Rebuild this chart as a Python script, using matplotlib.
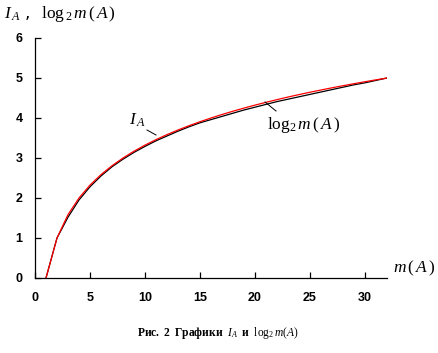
import matplotlib
matplotlib.use("Agg")
import matplotlib.pyplot as plt

m_values = [1, 2, 3, 4, 5, 6, 7, 8, 9, 10, 11, 12, 13, 14, 15, 16,
            17, 18, 19, 20, 21, 22, 23, 24, 25, 26, 27, 28, 29, 30, 31, 32]
I_A = [0.0, 1.0, 1.52, 1.95, 2.28, 2.55, 2.78, 2.97, 3.14, 3.29, 3.43, 3.55,
       3.67, 3.78, 3.88, 3.96, 4.04, 4.12, 4.20, 4.27, 4.34, 4.41, 4.47, 4.53,
       4.59, 4.65, 4.71, 4.77, 4.83, 4.88, 4.94, 5.0]
log2_m = [0.0, 1.0, 1.585, 2.0, 2.322, 2.585, 2.807, 3.0, 3.17, 3.322, 3.459,
          3.585, 3.70, 3.807, 3.907, 4.0, 4.087, 4.17, 4.248, 4.322, 4.392,
          4.459, 4.524, 4.585, 4.644, 4.70, 4.755, 4.807, 4.858, 4.907,
          4.954, 5.0]
x_ticks = [0, 5, 10, 15, 20, 25, 30]
y_ticks = [0, 1, 2, 3, 4, 5, 6]

plt.rcParams['mathtext.fontset'] = 'custom'
plt.rcParams['mathtext.rm'] = 'Liberation Serif'
plt.rcParams['mathtext.it'] = 'Liberation Serif:italic'
plt.rcParams['mathtext.bf'] = 'Liberation Serif:bold'

W, H = 439, 353
fig = plt.figure(figsize=(W / 100, H / 100), dpi=100)
ax = fig.add_axes([35 / W, 1 - 278 / H, (387 - 35) / W, (278 - 38) / H])

ax.plot(m_values, I_A, color='black', lw=0.9)
ax.plot(m_values, log2_m, color='#ff0000', lw=0.9)

ax.set_xlim(0, 32)
ax.set_ylim(0, 6)
ax.set_xticks(x_ticks)
ax.set_yticks(y_ticks)
for s in ('top', 'right'):
    ax.spines[s].set_visible(False)
for s in ('left', 'bottom'):
    ax.spines[s].set_linewidth(0.9)
ax.tick_params(direction='in', length=4, width=0.9)
ax.tick_params(axis='x', pad=10)
ax.tick_params(axis='y', pad=9)
for lab in ax.get_xticklabels() + ax.get_yticklabels():
    lab.set_fontfamily('Liberation Sans')
    lab.set_fontweight('bold')
    lab.set_fontsize(9)

def px(x, y):
    return (x / W, 1 - y / H)

fig.text(*px(4, 14), r'$I_{\,A}$ ,  $\mathrm{log}_{\,2}\, m\,(\,A\,)$', fontsize=12.5,
         ha='left', va='center')
fig.text(*px(393, 268), r'$m\,(\,A\,)$', fontsize=12.5, ha='left', va='center')

# annotations
fig.text(*px(129, 120), r'$I_{\,A}$', fontsize=12.5, ha='left', va='center')
fig.add_artist(plt.Line2D([147 / W, 156 / W], [1 - 130 / H, 1 - 135 / H],
                          color='black', lw=0.7))
fig.text(*px(267, 125), r'$\mathrm{log}_{2}\, m\,(\,A\,)$', fontsize=12.5,
         ha='left', va='center')
fig.add_artist(plt.Line2D([265 / W, 276 / W], [1 - 102 / H, 1 - 111 / H],
                          color='black', lw=0.7))

fig.text(*px(137, 333),
         r'$\mathbf{Рис.\ 2\ \ Графики}\ \ I_{A}\ \ \mathbf{и}\ \ \mathrm{log}_{2}\, m(A)$',
         fontsize=8.3, ha='left', va='center')

fig.savefig('out.png', dpi=100)
